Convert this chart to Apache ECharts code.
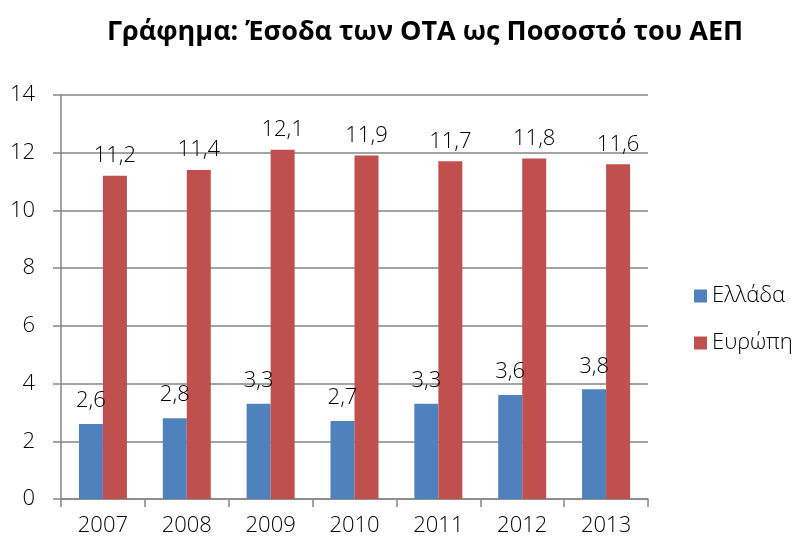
<!DOCTYPE html>
<html>
<head>
<meta charset="utf-8">
<script src="https://cdn.jsdelivr.net/npm/echarts@6/dist/echarts.min.js"></script>
<style>
  html, body { margin: 0; padding: 0; background: #fff; }
  #main { width: 800px; height: 543px; }
</style>
</head>
<body>
<div id="main"></div>
<script>
const years = ['2007', '2008', '2009', '2010', '2011', '2012', '2013']
const greece = [2.6, 2.8, 3.3, 2.7, 3.3, 3.6, 3.8]
const europe = [11.2, 11.4, 12.1, 11.9, 11.7, 11.8, 11.6]

const font = '"Open Sans", "Noto Sans", sans-serif'
const gray = '#868686'

// δεκαδικό με κόμμα
const fmt = p => String(p.value).replace('.', ',')

const chart = echarts.init(document.getElementById('main'))
chart.setOption({
  animation: false,
  title: {
    text: 'Γράφημα: Έσοδα των ΟΤΑ ως Ποσοστό του ΑΕΠ',
    left: 420,
    textAlign: 'center',
    top: 14,
    textStyle: { fontFamily: font, fontWeight: 'bold', fontSize: 27, color: '#000' },
  },
  legend: {
    orient: 'vertical',
    left: 689,
    top: 280,
    itemWidth: 13,
    itemHeight: 13,
    itemGap: 25,
    icon: 'rect',
    textStyle: { fontFamily: font, fontSize: 22, fontWeight: 300, color: '#000' },
    data: ['Ελλάδα', 'Ευρώπη'],
  },
  grid: { left: 61, right: 152, top: 95, bottom: 44 },
  xAxis: {
    type: 'category',
    data: years,
    axisLine: { lineStyle: { color: gray, width: 1.5 } },
    axisTick: { show: true, length: 8, lineStyle: { color: gray, width: 1.5 } },
    axisLabel: { fontFamily: font, fontSize: 22, fontWeight: 300, color: '#000', margin: 16 },
  },
  yAxis: {
    type: 'value',
    min: 0,
    max: 14,
    interval: 2,
    axisLine: { show: true, lineStyle: { color: gray, width: 1.5 } },
    axisTick: { show: true, length: 8, lineStyle: { color: gray, width: 1.5 } },
    splitLine: { lineStyle: { color: gray, width: 1.5 } },
    axisLabel: { fontFamily: font, fontSize: 22, fontWeight: 300, color: '#000', margin: 26 },
  },
  series: [
    {
      name: 'Ελλάδα',
      type: 'bar',
      data: greece,
      barWidth: 24,
      barGap: '0%',
      itemStyle: { color: '#4F81BD' },
      label: {
        show: true, position: 'top', distance: 12, formatter: fmt,
        fontFamily: font, fontSize: 22, fontWeight: 300, color: '#000',
      },
    },
    {
      name: 'Ευρώπη',
      type: 'bar',
      data: europe,
      barWidth: 24,
      itemStyle: { color: '#C0504D' },
      label: {
        show: true, position: 'top', distance: 9, formatter: fmt,
        fontFamily: font, fontSize: 22, fontWeight: 300, color: '#000',
      },
    },
  ],
})
</script>
</body>
</html>
